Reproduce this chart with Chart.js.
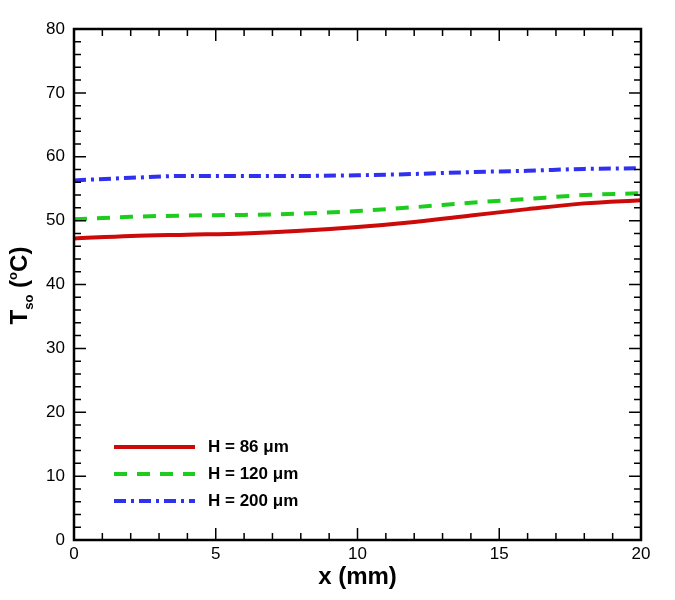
<!DOCTYPE html>
<html>
<head>
<meta charset="utf-8">
<script src="https://cdn.jsdelivr.net/npm/chart.js@4.4.0/dist/chart.umd.min.js"></script>
<style>
  body { margin: 0; background: #fff; }
  canvas { display: block; }
</style>
</head>
<body>
<canvas id="myChart" width="675" height="600"></canvas>
<script>
const ctx = document.getElementById('myChart');

// x positions (mm)
const xs = [0, 2, 4, 6, 8, 10, 12, 14, 16, 18, 20];
// surface temperature readings for each channel height
const t86 = [47.2, 47.6, 47.8, 48.0, 48.4, 49.0, 49.8, 50.8, 51.8, 52.7, 53.2];
const t120 = [50.2, 50.6, 50.8, 50.9, 51.1, 51.5, 52.1, 52.8, 53.4, 54.0, 54.3];
const t200 = [56.3, 56.7, 57.0, 57.0, 57.0, 57.1, 57.3, 57.6, 57.8, 58.1, 58.2];
const seriesNames = ['H = 86 \u03bcm', 'H = 120 \u03bcm', 'H = 200 \u03bcm'];

const FONT = "'Liberation Sans', Arial, Helvetica, sans-serif";

function toPoints(arr){
    let pts = [];
    for(let i = 0; i < xs.length; i++){
        pts.push({x: xs[i], y: arr[i]});
    }
    return pts;
}

// frame, inward ticks, y title and the legend box
const decorPlugin = {
    id: 'decor',
    afterDraw(chart){
        const c = chart.ctx;
        const a = chart.chartArea;
        const sx = chart.scales.x;
        const sy = chart.scales.y;
        c.save();
        c.strokeStyle = '#000';

        // minor + major ticks on all four sides
        c.lineWidth = 1.5;
        c.beginPath();
        for(let v = sx.min; v <= sx.max; v += 1){
            let px = sx.getPixelForValue(v);
            let len = (v % 5 === 0) ? 12 : 7;
            c.moveTo(px, a.bottom); c.lineTo(px, a.bottom - len);
            c.moveTo(px, a.top); c.lineTo(px, a.top + len);
        }
        for(let v = sy.min; v <= sy.max; v += 2){
            let py = sy.getPixelForValue(v);
            let len = (v % 10 === 0) ? 12 : 7;
            c.moveTo(a.left, py); c.lineTo(a.left + len, py);
            c.moveTo(a.right, py); c.lineTo(a.right - len, py);
        }
        c.stroke();

        c.lineWidth = 2.5;
        c.strokeRect(a.left, a.top, a.right - a.left, a.bottom - a.top);

        // y axis title: T_so (°C)
        c.fillStyle = '#000';
        c.textBaseline = 'alphabetic';
        c.textAlign = 'left';
        const big = 'bold 24px ' + FONT;
        const small = 'bold 13px ' + FONT;
        const parts = [
            {t: 'T', f: big, dy: 0},
            {t: 'so', f: small, dy: 6},
            {t: ' (', f: big, dy: 0},
            {t: 'o', f: small, dy: -10},
            {t: 'C)', f: big, dy: 0}
        ];
        let total = 0;
        for(let p of parts){ c.font = p.f; p.w = c.measureText(p.t).width; total += p.w; }
        c.translate(27, (a.top + a.bottom) / 2 + 1);
        c.rotate(-Math.PI / 2);
        let x = -total / 2;
        for(let p of parts){
            c.font = p.f;
            c.fillText(p.t, x, p.dy);
            x += p.w;
        }
        c.setTransform(1, 0, 0, 1, 0, 0);

        // legend inside the plot
        const ds = chart.data.datasets;
        for(let i = 0; i < ds.length; i++){
            let y = a.top + 418 + i * 27;
            c.strokeStyle = ds[i].borderColor;
            c.lineWidth = ds[i].borderWidth;
            c.setLineDash(ds[i].borderDash || []);
            c.beginPath();
            c.moveTo(a.left + 40, y);
            c.lineTo(a.left + 121, y);
            c.stroke();
            c.setLineDash([]);
            c.fillStyle = '#000';
            c.font = 'bold 17px ' + FONT;
            c.textBaseline = 'middle';
            c.fillText(ds[i].label, a.left + 134, y);
        }
        c.restore();
    }
};

new Chart(ctx, {
    type: 'line',
    data: {
        datasets: [{
            label: seriesNames[0],
            data: toPoints(t86),
            borderColor: '#cc0a0a',
            borderWidth: 4,
            pointRadius: 0,
            cubicInterpolationMode: 'monotone'
        }, {
            label: seriesNames[1],
            data: toPoints(t120),
            borderColor: '#1ecc1e',
            borderWidth: 4,
            borderDash: [13, 10],
            pointRadius: 0,
            cubicInterpolationMode: 'monotone'
        }, {
            label: seriesNames[2],
            data: toPoints(t200),
            borderColor: '#3030f0',
            borderWidth: 4,
            borderDash: [12, 5, 3, 5],
            pointRadius: 0,
            cubicInterpolationMode: 'monotone'
        }]
    },
    options: {
        responsive: false,
        animation: false,
        layout: {padding: {top: 29, right: 34, left: 0, bottom: 0}},
        plugins: {
            legend: {display: false},
            tooltip: {enabled: false}
        },
        scales: {
            x: {
                type: 'linear',
                min: 0,
                max: 20,
                grid: {display: false, drawTicks: false},
                border: {display: false},
                ticks: {stepSize: 5, color: '#000', padding: 4, font: {family: FONT, size: 17}},
                title: {
                    display: true,
                    text: 'x (mm)',
                    color: '#000',
                    font: {family: FONT, size: 24, weight: 'bold'},
                    padding: {top: 0, bottom: 8}
                },
                afterFit(s){ s.height = 60; }
            },
            y: {
                min: 0,
                max: 80,
                grid: {display: false, drawTicks: false},
                border: {display: false},
                ticks: {stepSize: 10, color: '#000', padding: 9, font: {family: FONT, size: 17}},
                afterFit(s){ s.width = 74; }
            }
        }
    },
    plugins: [decorPlugin]
});
</script>
</body>
</html>
